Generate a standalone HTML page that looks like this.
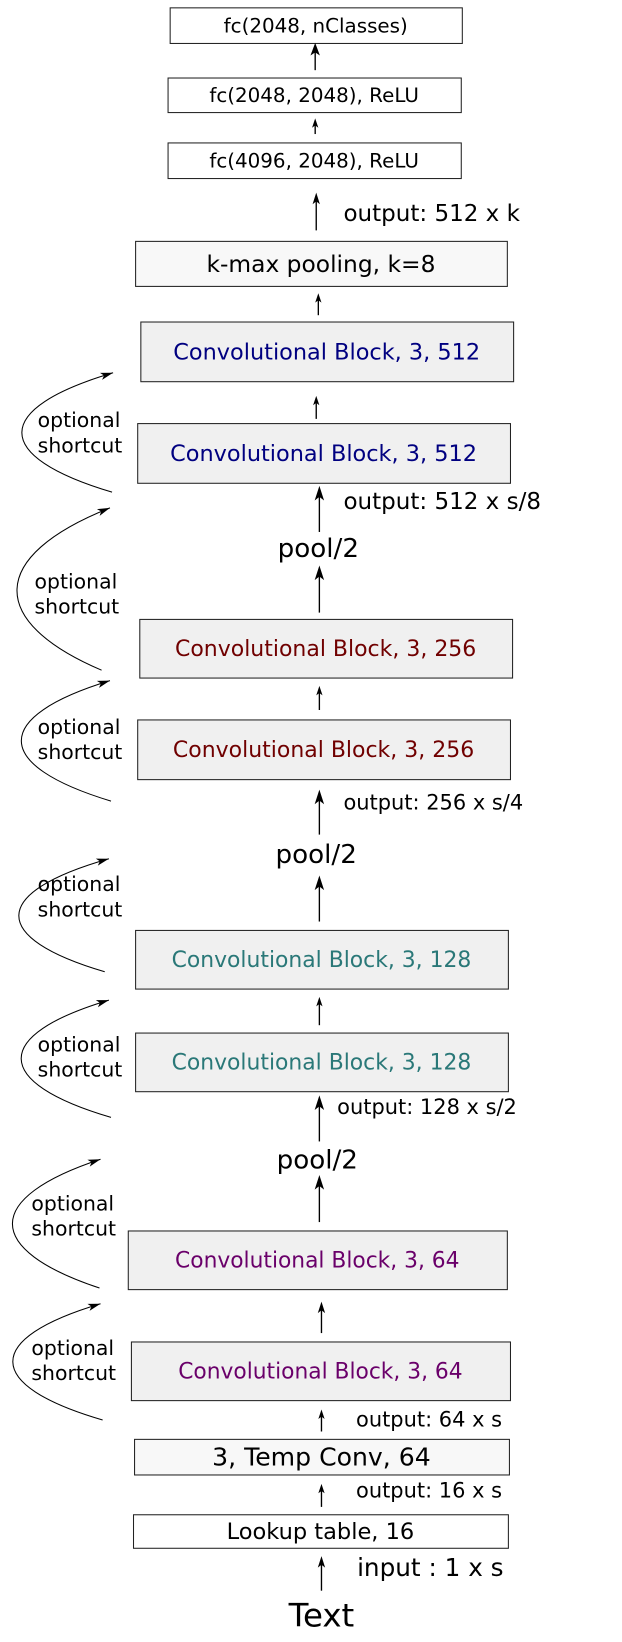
<!DOCTYPE html>
<html><head><meta charset="utf-8"><style>
html,body{margin:0;padding:0;background:#fff;}
svg{display:block;font-family:"DejaVu Sans","Liberation Sans",sans-serif;}
</style></head><body>
<svg id="d" width="622" height="1642" viewBox="0 0 594 1568" preserveAspectRatio="none" xmlns="http://www.w3.org/2000/svg"></svg>
<script>
const NS='http://www.w3.org/2000/svg';
const svg=document.getElementById('d');
const boxes=[
 [162,7,441,41,'fc(2048, nClasses)',19,'#000','#fff','fc-nclasses-box'],
 [160,74,440,107,'fc(2048, 2048), ReLU',19,'#000','#fff','fc-2048-box'],
 [160,136,440,170,'fc(4096, 2048), ReLU',19,'#000','#fff','fc-4096-box'],
 [129,230,484,273,'k-max pooling, k=8',22.3,'#000','#f8f8f8','kmax-pooling-box'],
 [134,307,490,364,'Convolutional Block, 3, 512',21.4,'#000080','#f0f0f0','conv-block-512-b'],
 [131,404,487,461,'Convolutional Block, 3, 512',21.4,'#000080','#f0f0f0','conv-block-512-a'],
 [133,591,489,647,'Convolutional Block, 3, 256',21,'#700000','#f0f0f0','conv-block-256-b'],
 [131,687,487,744,'Convolutional Block, 3, 256',21,'#700000','#f0f0f0','conv-block-256-a'],
 [129,888,485,944,'Convolutional Block, 3, 128',20.9,'#2a7878','#f0f0f0','conv-block-128-b'],
 [129,986,485,1042,'Convolutional Block, 3, 128',20.9,'#2a7878','#f0f0f0','conv-block-128-a'],
 [122,1175,484,1231,'Convolutional Block, 3, 64',20.8,'#6a006a','#f0f0f0','conv-block-64-b'],
 [125,1281,487,1337,'Convolutional Block, 3, 64',20.8,'#6a006a','#f0f0f0','conv-block-64-a'],
 [128,1374,486,1408,'3, Temp Conv, 64',24,'#000','#f8f8f8','temp-conv-box'],
 [127,1446,485,1478,'Lookup table, 16',21.5,'#000','#fff','lookup-table-box']
];
const arrows=[[301,67,41,4.5,12],[301,128,113,3,9],[302,220,184,3.5,11],[304,301,280,3,9],[302,400,378,3,9],
 [305,508,464,4.5,14],[305,585,540,4.5,14],[305,678,655,3,9],[305,797,754,4.5,14],[305,880,836,4.5,14],
 [305,979,952,3,9],[305,1090,1046,4.5,14],[305,1167,1122,4.5,14],[307,1273,1243,3.5,11],[307,1367,1346,3,9],
 [307,1439,1417,3,9],[307,1519,1486,3.5,11]];
const labels=[[328,211,'output: 512 x k',22,'start'],[328,486,'output: 512 x s/8',22,'start'],[304,532,'pool/2',25,'middle'],
 [328,773,'output: 256 x s/4',20,'start'],[302,824,'pool/2',25,'middle'],[322,1064,'output: 128 x s/2',20,'start'],
 [303,1116,'pool/2',25,'middle'],[340,1362,'output: 64 x s',20,'start'],[340,1430,'output: 16 x s',20,'start'],
 [341,1505,'input :  1 x s',23.6,'start'],[307,1553,'Text',31,'middle']];
const shortcuts=[[107,470,108,356,20,402,38],[97,640,105,485,16,556,35],[106,765,105,650,20,695,38],[100,928,104,820,18,845,38],
 [106,1067,104,955,20,998,38],[95,1230,96,1107,12,1150,32],[98,1356,96,1245,12,1288,32]];
function el(t,a){const e=document.createElementNS(NS,t);for(const k in a)e.setAttribute(k,a[k]);svg.appendChild(e);return e;}
boxes.forEach(b=>{
 const r=el('rect',{x:b[0]+.5,y:b[1]+.5,width:b[2]-b[0],height:b[3]-b[1],fill:b[7],stroke:'#222','stroke-width':1});
 
 
 const t=el('text',{x:(b[0]+b[2])/2,y:(b[1]+b[3])/2+b[5]*0.36,'font-size':b[5],fill:b[6],'text-anchor':'middle'});
 t.textContent=b[4];
 
 
});
function head(x,y,ang,w,l){const c=Math.cos(ang),s=Math.sin(ang);
 const bx=x-c*l,by=y-s*l,ix=x-c*l*0.75,iy=y-s*l*0.75;
 return `${x},${y} ${bx-s*w},${by+c*w} ${ix},${iy} ${bx+s*w},${by-c*w}`;}
arrows.forEach(a=>{
 const l=el('line',{x1:a[0],y1:a[1],x2:a[0],y2:a[2]+a[4]*0.6,stroke:'#000','stroke-width':1.3});
 
 
 const p=el('polygon',{points:head(a[0],a[2],-Math.PI/2,a[3],a[4]),fill:'#000'});
 
 
});
labels.forEach(l=>{
 const t=el('text',{x:l[0],y:l[1],'font-size':l[3],'text-anchor':l[4],fill:'#000'});
 t.textContent=l[2];
 
 
});
shortcuts.forEach(s=>{
 const [x1,y1,x2,y2,lx,ty,tx]=s;const h=y1-y2;
 const c1x=lx-28,c1y=y1-h*0.3,c2x=lx-28,c2y=y2+h*0.3;
 const p=el('path',{d:`M${x1},${y1} C${c1x},${c1y} ${c2x},${c2y} ${x2},${y2}`,fill:'none',stroke:'#000','stroke-width':1});
 
 
 const ang=Math.atan2(y2-c2y,x2-c2x);
 const hd=el('polygon',{points:head(x2,y2,ang,3.5,12),fill:'#000'});
 
 
 ['optional','shortcut'].forEach((w,i)=>{
  const t=el('text',{x:tx-2,y:ty+i*24+6,'font-size':19.5,fill:'#000'});
  t.textContent=w;
  
  
 });
});
</script>
</body></html>
